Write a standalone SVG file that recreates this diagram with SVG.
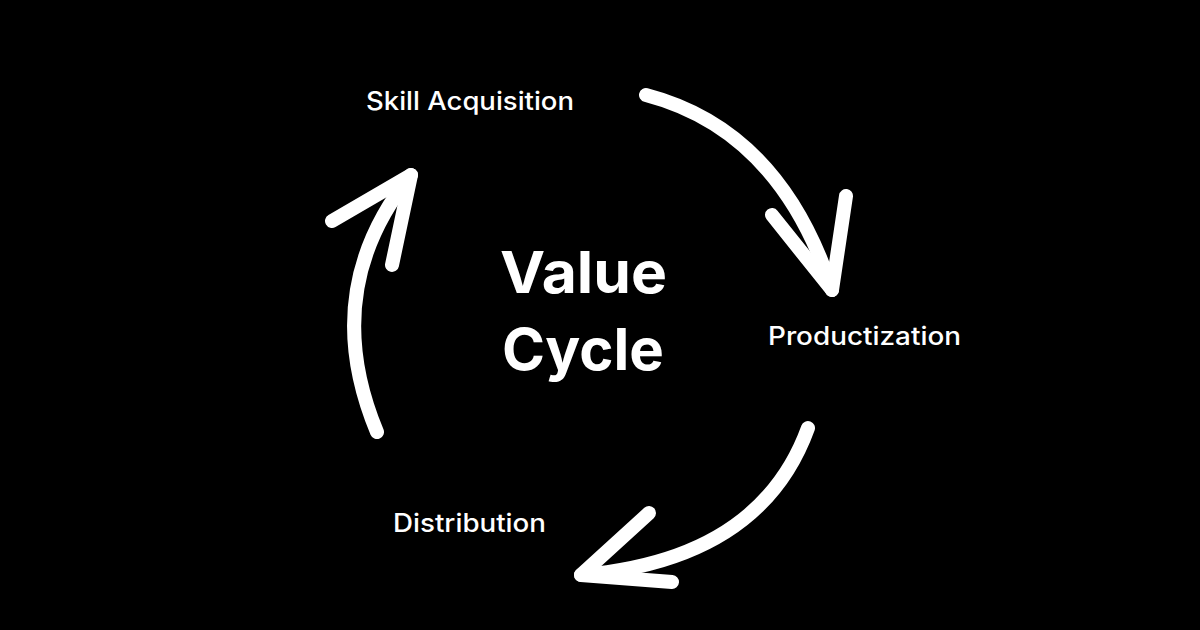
<svg xmlns="http://www.w3.org/2000/svg" width="1200" height="630" viewBox="0 0 1200 630">
  <style>
    .lbl { font-family: Inter, "Open Sans", "Liberation Sans", sans-serif; font-weight: 500; font-size: 25px; fill: #ffffff; }
    .title { font-family: Inter, "Open Sans", "Liberation Sans", sans-serif; font-weight: 700; font-size: 58px; fill: #ffffff; }
    .arrow { fill: none; stroke: #ffffff; stroke-width: 14; stroke-linecap: round; stroke-linejoin: round; }
  </style>
  <rect width="1200" height="630" fill="#000000"/>
  <g id="connectors">
    <g id="arrow-skill-to-product">
      <path class="arrow" d="M646,95 Q780,130 832,290"/>
      <path class="arrow" d="M772,215 L832,290 L846,196"/>
    </g>
    <g id="arrow-product-to-distribution">
      <path class="arrow" d="M808,428 Q760,560 581,575"/>
      <path class="arrow" d="M649,513 L581,575 L672,582"/>
    </g>
    <g id="arrow-distribution-to-skill">
      <path class="arrow" d="M377,432 Q318,290 411,175"/>
      <path class="arrow" d="M332,221 L411,175 L392,265"/>
    </g>
  </g>
  <g id="node-skill-acquisition">
    <text class="lbl" x="366" y="110" textLength="208" lengthAdjust="spacingAndGlyphs">Skill Acquisition</text>
  </g>
  <g id="node-productization">
    <text class="lbl" x="768" y="345" textLength="193" lengthAdjust="spacingAndGlyphs">Productization</text>
  </g>
  <g id="node-distribution">
    <text class="lbl" x="393" y="532" textLength="153" lengthAdjust="spacingAndGlyphs">Distribution</text>
  </g>
  <g id="center-title">
    <text class="title" x="500" y="293" textLength="167" lengthAdjust="spacingAndGlyphs">Value</text>
    <text class="title" x="502" y="370" textLength="162" lengthAdjust="spacingAndGlyphs">Cycle</text>
  </g>
</svg>
